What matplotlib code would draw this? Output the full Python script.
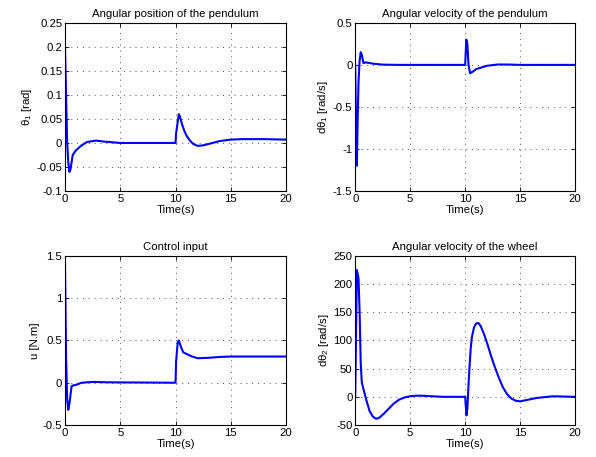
import matplotlib
matplotlib.use("Agg")
import matplotlib.pyplot as plt

plt.rcParams['font.family'] = ['Liberation Sans', 'DejaVu Sans']
plt.rcParams['mathtext.default'] = 'regular'
plt.rcParams['font.size'] = 8.2

# Angular position of the pendulum
t1 = [0, 0.1, 0.2, 0.3, 0.4, 0.5, 0.7, 1.0, 1.5, 2.0, 2.8, 3.5, 5, 10, 10.05, 10.3, 10.4, 10.6,
      10.8, 11.0, 11.3, 11.6, 12.0, 12.5, 13, 13.5, 14, 15, 16, 18, 20]
th1 = [0.2, 0.1, 0.0, -0.04, -0.06, -0.055, -0.025, -0.015, -0.005, 0.002, 0.005, 0.003, 0.0, 0.0,
       0.02, 0.06, 0.055, 0.038, 0.025, 0.015, 0.005, -0.002, -0.006, -0.005, -0.002, 0.001,
       0.004, 0.007, 0.008, 0.008, 0.007]

# Angular velocity of the pendulum
t2 = [0, 0.05, 0.1, 0.15, 0.2, 0.3, 0.4, 0.5, 0.6, 0.75, 0.9, 1.2, 1.6, 2.5, 4, 10, 10.05, 10.1,
      10.2, 10.3, 10.45, 10.7, 11, 11.5, 12, 13, 14, 15, 20]
dth1 = [0, -0.5, -1.15, -1.2, -0.8, -0.2, 0.05, 0.15, 0.12, 0.02, 0.03, 0.025, 0.015, 0.003, 0, 0,
        0.15, 0.3, 0.25, 0.0, -0.1, -0.08, -0.05, -0.03, -0.01, 0.005, 0.004, 0.0, 0.0]

# Control input
t3 = [0, 0.1, 0.2, 0.3, 0.4, 0.6, 0.8, 1.0, 1.5, 2.5, 4, 10, 10.05, 10.2, 10.3, 10.5, 10.7, 11,
      11.5, 12, 13, 14, 15, 17, 20]
u = [1.43, 0.3, -0.2, -0.32, -0.25, -0.04, -0.03, -0.025, 0.0, 0.01, 0.005, 0.0, 0.25, 0.48, 0.5,
     0.42, 0.36, 0.34, 0.31, 0.29, 0.295, 0.305, 0.31, 0.31, 0.31]

# Angular velocity of the wheel
t4 = [0, 0.1, 0.15, 0.3, 0.4, 0.5, 0.6, 0.8, 1.0, 1.3, 1.6, 1.9, 2.2, 2.6, 3, 3.5, 4, 4.5, 5, 5.5,
      6, 7, 8, 10, 10.05, 10.12, 10.2, 10.3, 10.4, 10.5, 10.6, 10.8, 11.0, 11.2, 11.4, 11.7, 12,
      12.3, 12.6, 13, 13.4, 13.8, 14.2, 14.6, 15, 15.5, 16.5, 17.5, 18, 20]
dth2 = [0, 150, 225, 210, 150, 60, 25, 10, -5, -25, -35, -39, -37, -30, -22, -12, -5, -1, 1, 2,
        2, 1, 0, 0, -15, -33, -20, 20, 55, 85, 105, 123, 130, 131, 126, 112, 95,
        76, 58, 37, 18, 5, -3, -7, -8, -6, -2, 0, 1, 0]

fig = plt.figure(figsize=(5.96, 4.57), dpi=100)

panels = [
    ([0.109, 0.582, 0.371, 0.368], t1, th1, 'Angular position of the pendulum', 'θ$_1$ [rad]',
     (-0.1, 0.25), [-0.1, -0.05, 0, 0.05, 0.1, 0.15, 0.2, 0.25],
     ['-0.1', '-0.05', '0', '0.05', '0.1', '0.15', '0.2', '0.25']),
    ([0.596, 0.582, 0.369, 0.368], t2, dth1, 'Angular velocity of the pendulum', 'dθ$_1$ [rad/s]',
     (-1.5, 0.5), [-1.5, -1, -0.5, 0, 0.5], ['-1.5', '-1', '-0.5', '0', '0.5']),
    ([0.109, 0.070, 0.371, 0.370], t3, u, 'Control input', 'u [N.m]',
     (-0.5, 1.5), [-0.5, 0, 0.5, 1, 1.5], ['-0.5', '0', '0.5', '1', '1.5']),
    ([0.596, 0.070, 0.369, 0.370], t4, dth2, 'Angular velocity of the wheel', 'dθ$_2$ [rad/s]',
     (-50, 250), [-50, 0, 50, 100, 150, 200, 250], ['-50', '0', '50', '100', '150', '200', '250']),
]

for rect, t, y, title, ylab, ylim, yt, ytl in panels:
    ax = fig.add_axes(rect)
    ax.plot(t, y, color='#0000ff', linewidth=1.5)
    ax.set_xlim(0, 20)
    ax.set_ylim(*ylim)
    ax.set_xticks([0, 5, 10, 15, 20])
    ax.set_xticklabels(['0', '5', '10', '15', '20'])
    ax.set_yticks(yt)
    ax.set_yticklabels(ytl)
    ax.set_title(title, fontsize=8.2, pad=4)
    ax.set_xlabel('Time(s)', labelpad=1)
    ax.set_ylabel(ylab, labelpad=2)
    ax.grid(True, linestyle=(0, (1, 5)), color='#555555', linewidth=0.7)
    ax.tick_params(direction='in', top=True, right=True, length=3, width=0.6, pad=2)
    for s in ax.spines.values():
        s.set_linewidth(0.8)

fig.savefig('out.png', dpi=100)
